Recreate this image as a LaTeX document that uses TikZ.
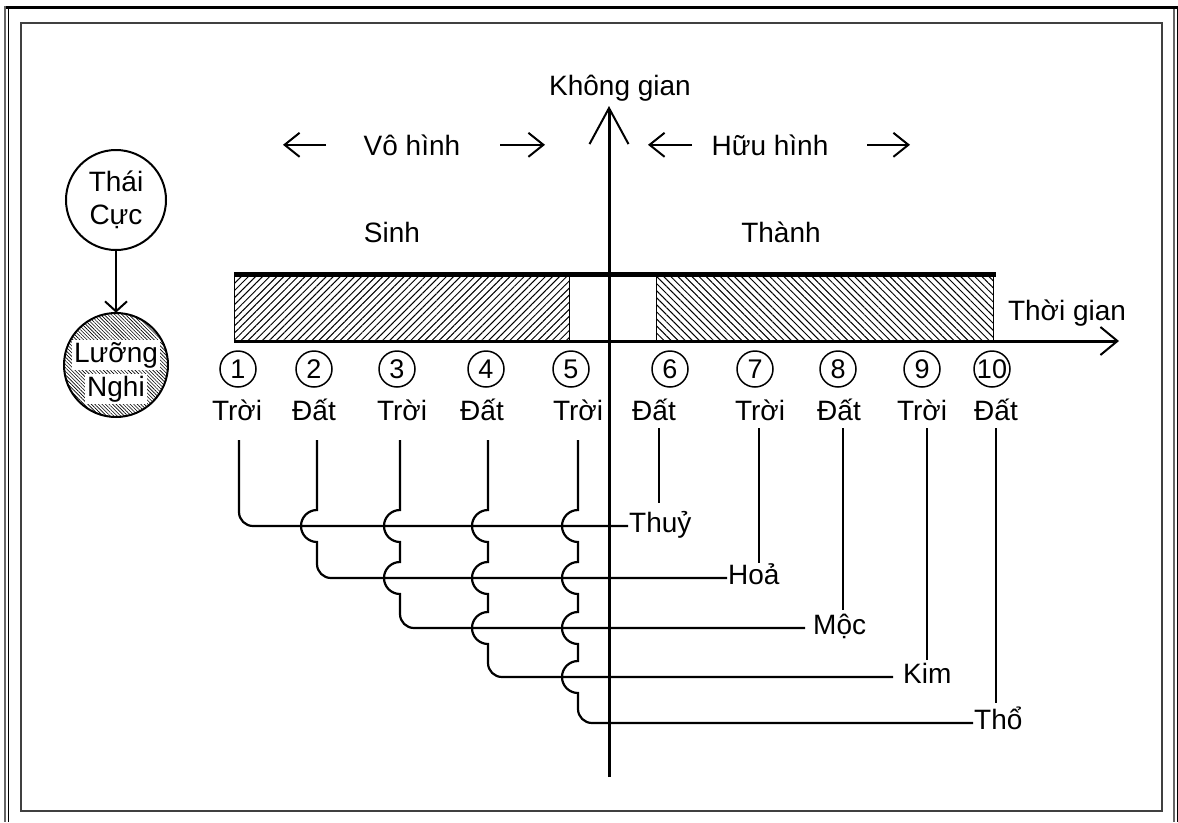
\documentclass[tikz,border=0pt]{standalone}
\usepackage{fontspec}
\setmainfont{Liberation Sans}
\usetikzlibrary{arrows.meta,patterns.meta,calc}
\begin{document}
\begin{tikzpicture}[x=1pt,y=-1pt,
  lbl/.style={font=\fontsize{28}{33}\selectfont, inner sep=0pt},
  numc/.style={circle, draw, line width=1.5pt, minimum size=36pt, inner sep=0pt, font=\fontsize{27}{28}\selectfont},
  elem/.style={lbl, anchor=west, text height=12pt, text depth=0pt, inner ysep=0pt, inner xsep=1pt},
  wire/.style={line width=2.2pt},
  harrow/.style={line width=2pt, -{Straight Barb[length=15pt,width=24pt]}},
  hatchL/.style={pattern={Lines[angle=45,distance=5pt,line width=1pt]}},
  hatchR/.style={pattern={Lines[angle=-45,distance=5pt,line width=1pt]}}
]
\useasboundingbox (0,0) rectangle (1178,822);
% frame
\draw[line width=3pt] (4,7.5) -- (1178,7.5);
\draw[line width=1.6pt, black!60] (5,6) -- (5,822);
\draw[line width=1pt] (8.5,9) -- (8.5,822);
\draw[line width=1.2pt, black!60] (1174,9) -- (1174,822);
\draw[line width=1pt] (1177,6) -- (1177,822);
\draw[line width=1.5pt, black!75] (21,23) rectangle (1162,811);

% bar
\fill[hatchL] (234,274) rectangle (569,341);
\draw[line width=1pt] (234,274) -- (234,341) (569,274) -- (569,341);
\fill[hatchR] (656,274) rectangle (993,341);
\draw[line width=1pt] (656,274) -- (656,341) (993,274) -- (993,341);
\draw[line width=5pt] (234,274) -- (996,274);

% axes
\draw[line width=3pt, -{Straight Barb[length=17pt,width=28pt,line width=2pt]}] (234,341) -- (1119,341);
\draw[line width=3pt, -{Straight Barb[length=36pt,width=39pt,line width=2pt]}] (609,777) -- (609,106);

% labels
\node[lbl, anchor=base] (kg) at (620,95) {Không gian};
\node[lbl, anchor=base] (vh) at (412,155) {Vô hình};
\node[lbl, anchor=base] (hh) at (770,155) {Hữu hình};
\node[lbl, anchor=base] (sinh) at (392,242) {Sinh};
\node[lbl, anchor=base] (thanh) at (781,242) {Thành};
\node[lbl, anchor=base] (tg) at (1067,320) {Thời gian};
\draw[harrow] ([xshift=-86pt]vh.center) -- ([xshift=-129pt]vh.center);
\draw[harrow] ([xshift=88pt]vh.center) -- ([xshift=133pt]vh.center);
\draw[harrow] ([xshift=-78pt]hh.center) -- ([xshift=-122pt]hh.center);
\draw[harrow] ([xshift=97pt]hh.center) -- ([xshift=140pt]hh.center);

% Thai Cuc / Luong Nghi
\node[lbl, circle, draw, line width=2pt, minimum size=100pt, align=center] (tc) at (116,200) {Thái\\Cực};
\node[circle, draw, line width=2pt, minimum size=104pt, pattern={Lines[angle=-45,distance=2.5pt,line width=0.6pt]}] (ln) at (116,365) {};
\node[lbl, fill=white, inner sep=2pt, anchor=base] (ln1) at (116,362) {Lưỡng};
\node[lbl, fill=white, inner sep=2pt, anchor=base] (ln2) at (116,396) {Nghi};
\draw[line width=2pt, -{Straight Barb[length=10pt,width=22pt]}] (tc) -- (ln);

% numbers
\foreach \i/\x in {1/238,2/314,3/397,4/486,5/571,6/670,7/755,8/838,9/922,10/992}
  \node[numc] (n\i) at (\x,369) {\i};

% words
\node[lbl, anchor=base] (t1) at (237,420) {Trời};
\node[lbl, anchor=base] (t2) at (314,420) {Đất};
\node[lbl, anchor=base] (t3) at (402,420) {Trời};
\node[lbl, anchor=base] (t4) at (482,420) {Đất};
\node[lbl, anchor=base] (t5) at (578,420) {Trời};
\node[lbl, anchor=base] (t6) at (654,420) {Đất};
\node[lbl, anchor=base] (t7) at (760,420) {Trời};
\node[lbl, anchor=base] (t8) at (839,420) {Đất};
\node[lbl, anchor=base] (t9) at (922,420) {Trời};
\node[lbl, anchor=base] (t10) at (996,420) {Đất};

% wire tops
\coordinate (w1) at (239,440);
\coordinate (w2) at (317,440);
\coordinate (w3) at (400,440);
\coordinate (w4) at (488,440);
\coordinate (w5) at (578,440);
\coordinate (w6) at (659,428);
\coordinate (w7) at (759,428);
\coordinate (w8) at (843,428);
\coordinate (w9) at (927,428);
\coordinate (w10) at (996,428);

% elements
\node[elem] (e1) at (628,526) {Thuỷ};
\node[elem] (e2) at (727,578) {Hoả};
\node[elem, inner xsep=8pt] (e3) at (805,628) {Mộc};
\node[elem, inner xsep=10pt] (e4) at (893,677) {Kim};
\node[elem] (e5) at (973,723) {Thổ};

% wires
\draw[wire] (w1) -- ($(w1|-e1.west)+(0,-14)$) arc[start angle=180,end angle=90,radius=14] -- (e1.west);
\draw[wire] (w2) -- ($(w2|-e1.west)+(0,-16)$) arc[start angle=270,end angle=90,radius=16]
  -- ($(w2|-e2.west)+(0,-14)$) arc[start angle=180,end angle=90,radius=14] -- (e2.west);
\draw[wire] (w3) -- ($(w3|-e1.west)+(0,-16)$) arc[start angle=270,end angle=90,radius=16]
  -- ($(w3|-e2.west)+(0,-16)$) arc[start angle=270,end angle=90,radius=16]
  -- ($(w3|-e3.west)+(0,-14)$) arc[start angle=180,end angle=90,radius=14] -- (e3.west);
\draw[wire] (w4) -- ($(w4|-e1.west)+(0,-16)$) arc[start angle=270,end angle=90,radius=16]
  -- ($(w4|-e2.west)+(0,-16)$) arc[start angle=270,end angle=90,radius=16]
  -- ($(w4|-e3.west)+(0,-16)$) arc[start angle=270,end angle=90,radius=16]
  -- ($(w4|-e4.west)+(0,-14)$) arc[start angle=180,end angle=90,radius=14] -- (e4.west);
\draw[wire] (w5) -- ($(w5|-e1.west)+(0,-16)$) arc[start angle=270,end angle=90,radius=16]
  -- ($(w5|-e2.west)+(0,-16)$) arc[start angle=270,end angle=90,radius=16]
  -- ($(w5|-e3.west)+(0,-16)$) arc[start angle=270,end angle=90,radius=16]
  -- ($(w5|-e4.west)+(0,-16)$) arc[start angle=270,end angle=90,radius=16]
  -- ($(w5|-e5.west)+(0,-14)$) arc[start angle=180,end angle=90,radius=14] -- (e5.west);
\draw[wire] (w6) -- ($(w6|-e1.west)+(0,-23)$);
\draw[wire] (w7) -- ($(w7|-e2.west)+(0,-15)$);
\draw[wire] (w8) -- ($(w8|-e3.west)+(0,-18)$);
\draw[wire] (w9) -- ($(w9|-e4.west)+(0,-17)$);
\draw[wire] (w10) -- ($(w10|-e5.west)+(0,-20)$);
\end{tikzpicture}
\end{document}
